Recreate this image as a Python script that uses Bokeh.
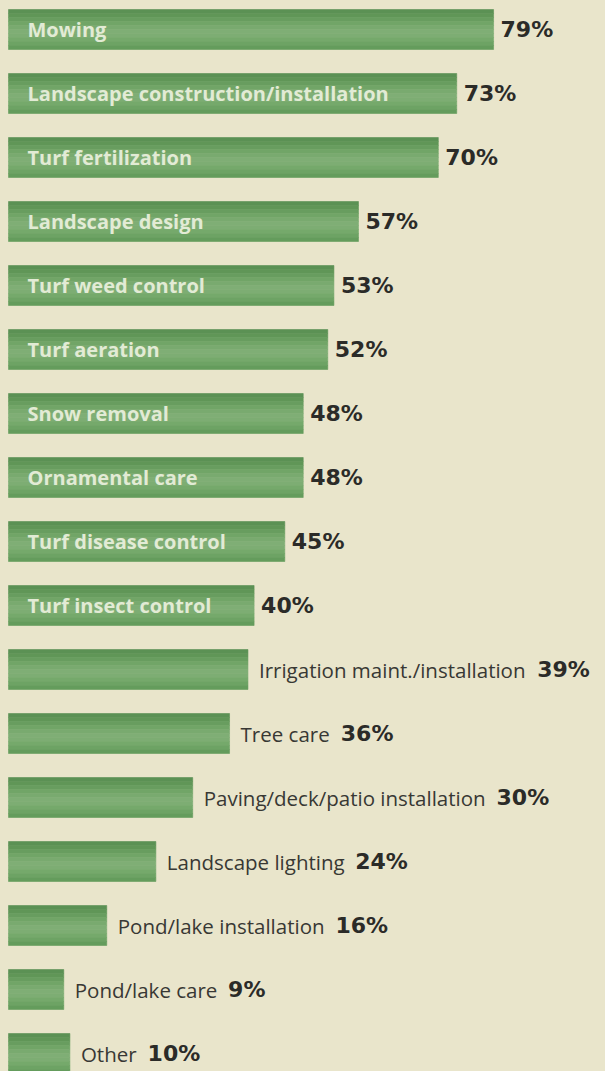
from bokeh.plotting import figure
from bokeh.models import Range1d, ColumnDataSource
from bokeh.core.properties import value
from bokeh.embed import file_html
from bokeh.resources import INLINE

categories = [
    "Mowing", "Landscape construction/installation", "Turf fertilization",
    "Landscape design", "Turf weed control", "Turf aeration", "Snow removal",
    "Ornamental care", "Turf disease control", "Turf insect control",
    "Irrigation maint./installation", "Tree care", "Paving/deck/patio installation",
    "Landscape lighting", "Pond/lake installation", "Pond/lake care", "Other",
]
values = [79, 73, 70, 57, 53, 52, 48, 48, 45, 40, 39, 36, 30, 24, 16, 9, 10]
label_inside = [True] * 10 + [False] * 7
pct_labels = [f"{v}%" for v in values]

BG = "#e9e5cb"
W, H = 605, 1071
MARGIN_X, MARGIN_Y = 8, 29
PX_PER_UNIT = 6.14
ROW_PX = 64
FONT_PX = 20.5

# approximate Open Sans advance widths (units per em = 2048), used to place the % after outside labels
ADV = {" ": 532, ".": 545, "/": 754, "a": 1139, "c": 975, "d": 1255, "e": 1149, "f": 694,
       "g": 1122, "h": 1257, "i": 518, "k": 1075, "l": 518, "m": 1905, "n": 1257, "o": 1237,
       "p": 1255, "r": 836, "s": 977, "t": 723, "u": 1257, "v": 1026, "y": 1028, "z": 977,
       "I": 614, "L": 1008, "O": 1599, "P": 1204, "T": 1149}


def text_width(s):
    return sum(ADV.get(ch, 1150) for ch in s) / 2048 * FONT_PX


ys = list(range(len(categories)))

in_src = ColumnDataSource(dict(
    x=[0 for c, ins in zip(categories, label_inside) if ins],
    y=[y for y, ins in zip(ys, label_inside) if ins],
    text=[c for c, ins in zip(categories, label_inside) if ins],
))
out_src = ColumnDataSource(dict(
    x=[v for v, ins in zip(values, label_inside) if not ins],
    y=[y for y, ins in zip(ys, label_inside) if not ins],
    text=[c for c, ins in zip(categories, label_inside) if not ins],
))
pct_off = [7 if ins else 10 + text_width(c) + 12 for c, ins in zip(categories, label_inside)]
pct_src = ColumnDataSource(dict(x=values, y=ys, text=pct_labels, xo=pct_off))

# vertical shading of each bar, drawn as thin strips (top to bottom)
shade = ["#5b9154", "#609657", "#689d5f", "#71a567", "#79aa6f", "#7fae75",
         "#7dad73", "#75a96b", "#6da364", "#649c5c"]
bh = 40 / ROW_PX
sh = bh / len(shade)
strip = dict(y=[], right=[], color=[])
for y, v in zip(ys, values):
    for k, col in enumerate(shade):
        strip["y"].append(y - bh / 2 + sh * (k + 0.5))
        strip["right"].append(v)
        strip["color"].append(col)
bar_src = ColumnDataSource(strip)

top = -MARGIN_Y / ROW_PX
bottom = (H - MARGIN_Y) / ROW_PX
x0 = -MARGIN_X / PX_PER_UNIT
x1 = (W - MARGIN_X) / PX_PER_UNIT

p = figure(width=W, height=H, output_backend="svg", toolbar_location=None,
           x_range=Range1d(x0, x1), y_range=Range1d(bottom, top),
           min_border=0, outline_line_color=None,
           background_fill_color=BG, border_fill_color=BG)
p.axis.visible = False
p.grid.visible = False

p.hbar(y="y", right="right", left=0, height=sh, source=bar_src,
       fill_color="color", line_color="color", line_width=0.6)

p.text(x="x", y="y", text="text", source=in_src, x_offset=19,
       text_font=value("Open Sans"), text_font_style="bold",
       text_font_size="20px", text_color="#e2ebd5",
       text_baseline="middle", text_align="left")
p.text(x="x", y="y", text="text", source=out_src, x_offset=11,
       text_font=value("Open Sans"), text_font_style="normal",
       text_font_size=f"{FONT_PX}px", text_color="#383834",
       text_baseline="middle", text_align="left")
p.text(x="x", y="y", text="text", source=pct_src, x_offset="xo",
       text_font=value("DejaVu Sans"), text_font_style="bold",
       text_font_size="22px", text_color="#2b2b28",
       text_baseline="middle", text_align="left")

html = file_html(p, INLINE)
html = html.replace("<head>", f"<head><style>body{{background:{BG};}}</style>", 1)
open("out.html", "w").write(html)
